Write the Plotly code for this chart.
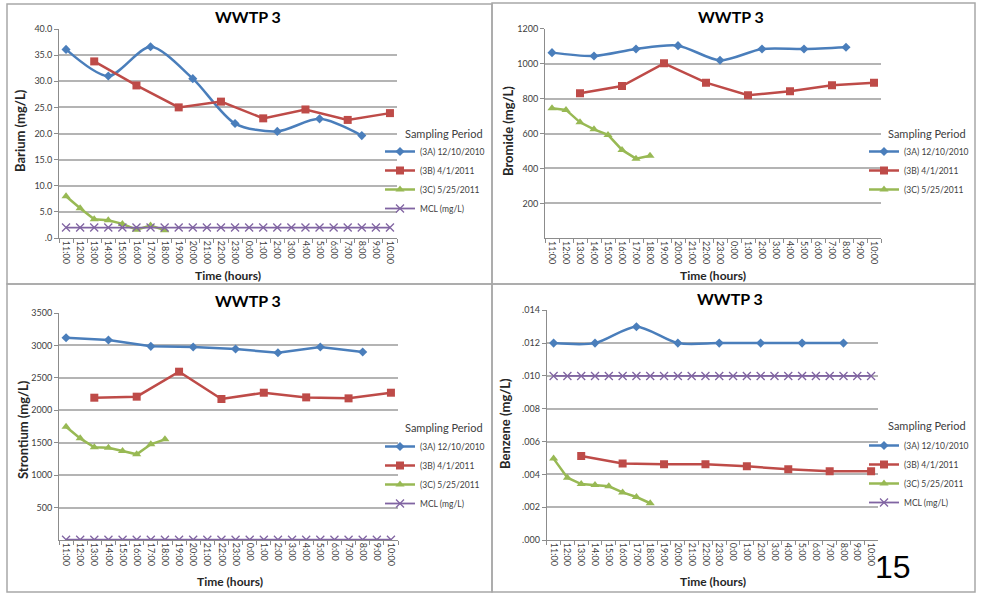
import plotly.graph_objects as go

W, H = 983, 601

# ---------------- data ----------------
hours = ["11:00", "12:00", "13:00", "14:00", "15:00", "16:00", "17:00", "18:00",
         "19:00", "20:00", "21:00", "22:00", "23:00", "0:00", "1:00", "2:00",
         "3:00", "4:00", "5:00", "6:00", "7:00", "8:00", "9:00", "10:00"]

times_3a = ["11:00", "14:00", "17:00", "20:00", "23:00", "2:00", "5:00", "8:00"]
times_3b = ["13:00", "16:00", "19:00", "22:00", "1:00", "4:00", "7:00", "10:00"]
times_3c = ["11:00", "12:00", "13:00", "14:00", "15:00", "16:00", "17:00", "18:00"]

series_names = ["(3A) 12/10/2010", "(3B) 4/1/2011", "(3C) 5/25/2011", "MCL (mg/L)"]

barium_3a = [36.1, 31.0, 36.6, 30.5, 21.9, 20.4, 22.8, 19.6]
barium_3b = [33.8, 29.2, 25.0, 26.1, 22.9, 24.6, 22.6, 23.9]
barium_3c = [8.0, 5.7, 3.6, 3.4, 2.7, 1.6, 2.4, 1.5]
barium_mcl = 2.0

bromide_3a = [1063, 1044, 1084, 1103, 1019, 1084, 1084, 1094]
bromide_3b = [830, 872, 1002, 891, 819, 842, 876, 891]
bromide_3c = [744, 735, 664, 624, 592, 506, 456, 473]

strontium_3a = [3119, 3083, 2986, 2976, 2944, 2888, 2976, 2898]
strontium_3b = [2194, 2210, 2595, 2174, 2271, 2199, 2184, 2271]
strontium_3c = [1747, 1567, 1429, 1423, 1372, 1321, 1475, 1552]
strontium_mcl = 4

benzene_3a = [0.012, 0.012, 0.013, 0.012, 0.012, 0.012, 0.012, 0.012]
benzene_3b = [0.00512, 0.00467, 0.00461, 0.00461, 0.00449, 0.00431, 0.00419, 0.00419]
benzene_3c = [0.00496, 0.0038, 0.00341, 0.00335, 0.00327, 0.0029, 0.00262, 0.00224]
benzene_mcl = 0.010

barium_ticks = [0, 5, 10, 15, 20, 25, 30, 35, 40]
barium_ticktext = [".0", "5.0", "10.0", "15.0", "20.0", "25.0", "30.0", "35.0", "40.0"]
bromide_ticks = [200, 400, 600, 800, 1000, 1200]
strontium_ticks = [500, 1000, 1500, 2000, 2500, 3000, 3500]
benzene_ticks = [0, 0.002, 0.004, 0.006, 0.008, 0.010, 0.012, 0.014]
benzene_ticktext = [".000", ".002", ".004", ".006", ".008", ".010", ".012", ".014"]

# ---------------- style ----------------
FONT = "Lato, 'Open Sans', sans-serif"
BLUE, RED, GREEN, PURPLE = "#4A7EBB", "#BE4B48", "#98B954", "#8064A2"
GRID = "#B4B4B4"
AXIS = "#8C8C8C"
TXT = "#404040"


def px(x):
    return x / W


def py(y):
    return 1 - y / H


panels = [
    dict(ax="", title="Barium (mg/L)", a=barium_3a, b=barium_3b, c=barium_3c, mcl=barium_mcl,
         xd=[px(59), px(397)], yd=[py(238), py(29)], yr=[0, 40],
         tv=barium_ticks, tt=barium_ticktext, legend="legend",
         lx=px(380), ly=py(137), lt_xy=(403, 133), title_xy=(248, 17), yt_xy=(20, 131), xt_xy=(228, 275)),
    dict(ax="2", title="Bromide (mg/L)", a=bromide_3a, b=bromide_3b, c=bromide_3c, mcl=None,
         xd=[px(545), px(881)], yd=[py(238.3), py(28.7)], yr=[0, 1200],
         tv=bromide_ticks, tt=[str(v) for v in bromide_ticks], legend="legend2",
         lx=px(864), ly=py(137), lt_xy=(886, 133), title_xy=(731, 17), yt_xy=(508, 131), xt_xy=(713, 275)),
    dict(ax="3", title="Strontium (mg/L)", a=strontium_3a, b=strontium_3b, c=strontium_3c, mcl=strontium_mcl,
         xd=[px(59), px(398)], yd=[py(540), py(313)], yr=[0, 3500],
         tv=strontium_ticks, tt=[str(v) for v in strontium_ticks], legend="legend3",
         lx=px(380), ly=py(432), lt_xy=(403, 427), title_xy=(248, 300), yt_xy=(23, 430), xt_xy=(230, 581)),
    dict(ax="4", title="Benzene (mg/L)", a=benzene_3a, b=benzene_3b, c=benzene_3c, mcl=benzene_mcl,
         xd=[px(546.7), px(878)], yd=[py(540), py(310.3)], yr=[0, 0.014],
         tv=benzene_ticks, tt=benzene_ticktext, legend="legend4",
         lx=px(864), ly=py(431), lt_xy=(886, 425), title_xy=(730, 298), yt_xy=(505, 423), xt_xy=(713, 581)),
]

fig = go.Figure()
layout = dict(
    width=W, height=H, margin=dict(l=0, r=0, t=0, b=0, pad=0, autoexpand=False),
    paper_bgcolor="white", plot_bgcolor="white",
    font=dict(family=FONT, color=TXT, size=9),
    showlegend=True,
)
annotations = []
shapes = []

for p in panels:
    xa, ya = "x" + p["ax"], "y" + p["ax"]
    spline_a = p["ax"] != "3"
    fig.add_trace(go.Scatter(
        x=times_3a, y=p["a"], name=series_names[0], xaxis=xa, yaxis=ya, legend=p["legend"],
        mode="lines+markers",
        line=dict(color=BLUE, width=2.5, shape="spline" if spline_a else "linear", smoothing=0.8),
        marker=dict(symbol="diamond", size=7, color=BLUE)))
    fig.add_trace(go.Scatter(
        x=times_3b, y=p["b"], name=series_names[1], xaxis=xa, yaxis=ya, legend=p["legend"],
        mode="lines+markers", line=dict(color=RED, width=2.5),
        marker=dict(symbol="square", size=8, color=RED)))
    fig.add_trace(go.Scatter(
        x=times_3c, y=p["c"], name=series_names[2], xaxis=xa, yaxis=ya, legend=p["legend"],
        mode="lines+markers", line=dict(color=GREEN, width=2.5),
        marker=dict(symbol="triangle-up", size=8, color=GREEN)))
    if p["mcl"] is not None:
        fig.add_trace(go.Scatter(
            x=hours, y=[p["mcl"]] * len(hours), name=series_names[3], xaxis=xa, yaxis=ya,
            legend=p["legend"], mode="lines+markers", line=dict(color=PURPLE, width=1.8),
            marker=dict(symbol="x-thin", size=8, color=PURPLE, line=dict(color=PURPLE, width=1.3))))

    layout["xaxis" + p["ax"]] = dict(
        domain=p["xd"], anchor=ya, type="category", categoryorder="array", categoryarray=hours,
        range=[-0.5, len(hours) - 0.5], tickmode="array", tickvals=hours, ticktext=hours,
        tickangle=90, tickfont=dict(size=9, color=TXT, family=FONT), automargin=False,
        showline=True, linecolor=AXIS, linewidth=1, ticks="outside", tickson="boundaries",
        ticklen=4, tickcolor=AXIS, showgrid=False, zeroline=False, fixedrange=True)
    layout["yaxis" + p["ax"]] = dict(
        domain=p["yd"], anchor=xa, range=p["yr"], tickmode="array", tickvals=p["tv"], ticktext=p["tt"],
        tickfont=dict(size=9, color=TXT, family=FONT), automargin=False,
        showline=True, linecolor=AXIS, linewidth=1, ticks="outside", ticklen=4, tickcolor=AXIS,
        showgrid=True, gridcolor=GRID, gridwidth=1.5, zeroline=False, fixedrange=True)
    layout[p["legend"]] = dict(
        x=p["lx"], y=p["ly"], xanchor="left", yanchor="top", bgcolor="rgba(0,0,0,0)",
        font=dict(size=8.5, color=TXT, family=FONT), itemwidth=30)

    lx_, ly_ = p["lt_xy"]
    annotations.append(dict(text="Sampling Period", x=px(lx_), y=py(ly_), xref="paper", yref="paper",
                            showarrow=False, font=dict(size=11, color=TXT, family=FONT),
                            xanchor="left", yanchor="middle"))
    tx, ty = p["title_xy"]
    annotations.append(dict(text="<b>WWTP 3</b>", x=px(tx), y=py(ty), xref="paper", yref="paper",
                            showarrow=False, font=dict(size=16, color="black", family=FONT),
                            xanchor="center", yanchor="middle"))
    yx, yy = p["yt_xy"]
    annotations.append(dict(text="<b>" + p["title"] + "</b>", x=px(yx), y=py(yy), xref="paper", yref="paper",
                            showarrow=False, textangle=-90, font=dict(size=13, color="#262626", family=FONT),
                            xanchor="center", yanchor="middle"))
    xx, xy = p["xt_xy"]
    annotations.append(dict(text="<b>Time (hours)</b>", x=px(xx), y=py(xy), xref="paper", yref="paper",
                            showarrow=False, font=dict(size=12, color="#262626", family=FONT),
                            xanchor="center", yanchor="middle"))

annotations.append(dict(text="15", x=px(893), y=py(567), xref="paper", yref="paper", showarrow=False,
                        font=dict(size=32, color="black", family="Liberation Sans, Arial, sans-serif"),
                        xanchor="center", yanchor="middle"))

for (x0, y0, x1, y1) in [(7, 4, 492, 284), (492, 3, 975, 284), (7, 284, 492, 592), (492, 284, 975, 592)]:
    shapes.append(dict(type="rect", xref="paper", yref="paper", x0=px(x0), y0=py(y1), x1=px(x1), y1=py(y0),
                       line=dict(color="#A8A8A8", width=1.5), fillcolor="rgba(0,0,0,0)", layer="below"))

layout["annotations"] = annotations
layout["shapes"] = shapes
fig.update_layout(**layout)
fig.write_html(
    "out.html",
    config={"displayModeBar": False, "responsive": False},
    post_script=("document.documentElement.style.margin='0px';"
                 "document.documentElement.style.overflow='hidden';"
                 "document.body.style.margin='0px';document.body.style.padding='0px';"
                 "document.body.style.overflow='hidden';"),
)
